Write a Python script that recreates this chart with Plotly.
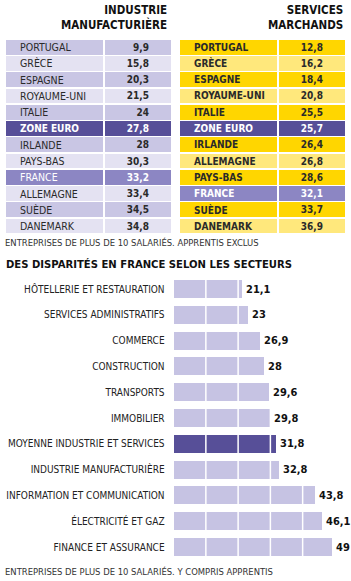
import plotly.graph_objects as go

# ---- data ----
countries_ind = ["PORTUGAL", "GRÈCE", "ESPAGNE", "ROYAUME-UNI", "ITALIE", "ZONE EURO",
                 "IRLANDE", "PAYS-BAS", "FRANCE", "ALLEMAGNE", "SUÈDE", "DANEMARK"]
values_ind = [9.9, 15.8, 20.3, 21.5, 24, 27.8, 28, 30.3, 33.2, 33.4, 34.5, 34.8]

countries_srv = ["PORTUGAL", "GRÈCE", "ESPAGNE", "ROYAUME-UNI", "ITALIE", "ZONE EURO",
                 "IRLANDE", "ALLEMAGNE", "PAYS-BAS", "FRANCE", "SUÈDE", "DANEMARK"]
values_srv = [12.8, 16.2, 18.4, 20.8, 25.5, 25.7, 26.4, 26.8, 28.6, 32.1, 33.7, 36.9]

sectors = ["HÔTELLERIE ET RESTAURATION", "SERVICES ADMINISTRATIFS", "COMMERCE",
           "CONSTRUCTION", "TRANSPORTS", "IMMOBILIER", "MOYENNE INDUSTRIE ET SERVICES",
           "INDUSTRIE MANUFACTURIÈRE", "INFORMATION ET COMMUNICATION",
           "ÉLECTRICITÉ ET GAZ", "FINANCE ET ASSURANCE"]
sector_values = [21.1, 23, 26.9, 28, 29.6, 29.8, 31.8, 32.8, 43.8, 46.1, 49]
highlight_sector = "MOYENNE INDUSTRIE ET SERVICES"

FONT = "DejaVu Sans Condensed, DejaVu Sans, sans-serif"
W, H = 351, 581
NB = "\u00a0"

def fmt(v):
    return f"{v:g}".replace(".", ",")

def table_colors(names, c_even, c_odd):
    fills, fcolors = [], []
    for i, n in enumerate(names):
        if n == "ZONE EURO":
            fills.append("#574f98"); fcolors.append("white")
        elif n == "FRANCE":
            fills.append("#8c86c3"); fcolors.append("white")
        else:
            fills.append(c_even if i % 2 == 0 else c_odd); fcolors.append("#2a2a2a")
    return fills, fcolors

fig = go.Figure()

# ---- top tables, drawn as stacked full-width rows ----
LABEL_W, VALUE_W = 99, 68
row_h = 16.27
top_px = 39
tab_h = row_h * len(countries_ind)

def add_table(names, vals, ax, c_even, c_odd, bold_labels):
    fills, fcolors = table_colors(names, c_even, c_odd)
    vtxt = ["<b>%s</b>" % fmt(v) + NB * 7 for v in vals]
    common = dict(orientation="h", y=names, width=1, xaxis="x" + ax, yaxis="y" + ax,
                  hoverinfo="skip")
    fig.add_trace(go.Bar(x=[LABEL_W] * len(names),
                         marker=dict(color=fills, line=dict(color="white", width=1.5)),
                         **common))
    fig.add_trace(go.Bar(x=[VALUE_W] * len(names), text=vtxt, insidetextanchor="end",
                         textposition="inside", constraintext="none",
                         textfont=dict(family=FONT, size=10, color=fcolors),
                         marker=dict(color=fills, line=dict(color="white", width=1.5)),
                         **common))
    for n, fc in zip(names, fcolors):
        bold = bold_labels or n == "ZONE EURO"
        fig.add_annotation(x=0, y=n, xref="x" + ax, yref="y" + ax,
                           text=("<b>%s</b>" % n) if bold else n,
                           xanchor="left", yanchor="middle", xshift=13, showarrow=False,
                           font=dict(family=FONT, size=10 if bold else 10.5, color=fc))

add_table(countries_ind, values_ind, "2", "#c9c6e4", "#e4e2f2", False)
add_table(countries_srv, values_srv, "3", "#ffd600", "#ffe87c", True)

# ---- sector bar chart ----
bar_colors = ["#574f98" if s == highlight_sector else "#c6c3e3" for s in sectors]
fig.add_trace(go.Bar(
    x=sector_values, y=sectors, orientation="h", width=0.7,
    marker=dict(color=bar_colors, line=dict(width=0)),
    xaxis="x", yaxis="y", hoverinfo="skip",
))

x0_px, x1_px = 173.6, 347.8
y_top, y_bot = 276.1, 559.9
hidden = dict(showgrid=False, zeroline=False, showline=False, showticklabels=False,
              ticks="", fixedrange=True)
tab_dom = [1 - (top_px + tab_h) / H, 1 - top_px / H]
fig.update_layout(
    width=W, height=H, margin=dict(l=0, r=0, t=0, b=0),
    paper_bgcolor="white", plot_bgcolor="rgba(0,0,0,0)",
    showlegend=False, barmode="stack",
    font=dict(family=FONT, color="#222"),
    xaxis=dict(domain=[x0_px / W, x1_px / W], range=[0, 54], showgrid=False,
               showticklabels=False, zeroline=False, showline=False, ticks=""),
    yaxis=dict(domain=[1 - y_bot / H, 1 - y_top / H], autorange="reversed",
               showgrid=False, ticks="", showline=False, zeroline=False,
               tickfont=dict(family=FONT, size=10, color="#222"),
               ticklabelstandoff=8),
    xaxis2=dict(domain=[5 / W, 172 / W], range=[0, LABEL_W + VALUE_W], anchor="y2", **hidden),
    yaxis2=dict(domain=tab_dom, autorange="reversed", anchor="x2", **hidden),
    xaxis3=dict(domain=[179 / W, 346 / W], range=[0, LABEL_W + VALUE_W], anchor="y3", **hidden),
    yaxis3=dict(domain=tab_dom, autorange="reversed", anchor="x3", **hidden),
)

# white separators across the bars
for v in [10, 20, 30, 40]:
    fig.add_shape(type="line", xref="x", yref="paper", x0=v, x1=v,
                  y0=1 - y_bot / H, y1=1 - y_top / H,
                  line=dict(color="white", width=1.5), layer="above")

# value labels at bar ends
for s, v in zip(sectors, sector_values):
    fig.add_annotation(x=v, y=s, xref="x", yref="y", text="<b>%s</b>" % fmt(v),
                       xanchor="left", yanchor="middle", xshift=3, showarrow=False,
                       bgcolor="white", borderpad=0,
                       font=dict(family=FONT, size=11, color="#111"))

def ann(text, x, y, anchor, size, bold=False, color="#111", align="left"):
    fig.add_annotation(text=("<b>%s</b>" % text) if bold else text,
                       x=x / W, y=1 - y / H, xref="paper", yref="paper",
                       xanchor=anchor, yanchor="middle", showarrow=False, align=align,
                       font=dict(family=FONT, size=size, color=color))

ann("INDUSTRIE<br>MANUFACTURIÈRE", 169, 17, "right", 11.5, True, align="right")
ann("SERVICES<br>MARCHANDS", 345, 17, "right", 11.5, True, align="right")
ann("ENTREPRISES DE PLUS DE 10 SALARIÉS. APPRENTIS EXCLUS", 3, 243, "left", 9.4, color="#333")
ann("DES DISPARITÉS EN FRANCE SELON LES SECTEURS", 4, 264, "left", 11.2, True, color="#111")
ann("ENTREPRISES DE PLUS DE 10 SALARIÉS. Y COMPRIS APPRENTIS", 3, 571, "left", 9.4, color="#333")

fig.write_html("out.html")
